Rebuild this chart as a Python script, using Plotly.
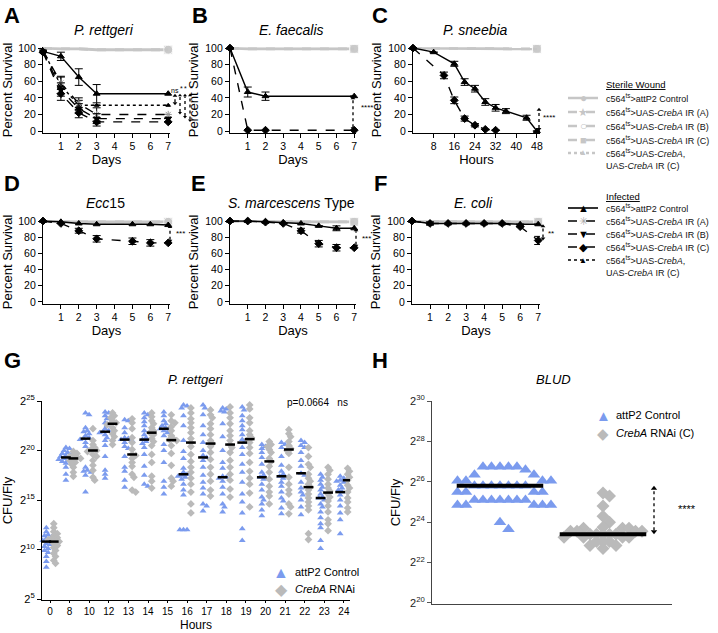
import plotly.graph_objects as go

W, H = 718, 633
FONT = "Liberation Sans, Arial, Helvetica, sans-serif"
BLUE = "#7B9BEE"
GRAYD = "#BABABA"
STER = "#C6C6C6"

# ------------------------------------------------------------------ data
# A  P. rettgeri (days)
A_days = [0, 1, 2, 3, 7]
A_ctrl = [96, 90, 65, 45, 45]
A_ctrl_err = [None, 5, 10, 11, None]
A_irA = [97, 58, 33, 20, 20]
A_irA_err = [None, 8, 7, 8, None]
A_irB = [96, 50, 27, 15, 15]
A_irB_err = [None, 8, 6, 6, None]
A_irC = [95, 45, 22, 11, 11]
A_irC_err = [None, 8, 6, 5, None]
A_res = [97, 55, 31, 31, 31]
A_res_err = [None, 10, 6, None, None]
A_ster = [100, 99, 99, 98, 98]

# B  E. faecalis (days)
B_days = [0, 1, 2, 7]
B_ctrl = [100, 47, 42, 42]
B_ctrl_err = [None, 6, 5, None]
B_irC = [100, 1, 1, 1]
B_ster = [100, 99, 99, 99]

# C  P. sneebia (hours)
C_ctrl_h = [0, 8, 16, 20, 24, 28, 32, 36, 44, 48]
C_ctrl = [100, 95, 81, 59, 51, 35, 28, 24, 16, 0]
C_ctrl_err = [None, None, 3, 4, 4, 4, 4, 3, 3, None]
C_irC_h = [0, 12, 16, 20, 24, 28, 32]
C_irC = [100, 67, 37, 15, 7, 2, 1]
C_irC_err = [None, 4, 4, 3, 2, None, None]
C_ster_h = [0, 48]
C_ster = [100, 99]

# D  Ecc15 (days)
D_days = [0, 1, 2, 3, 5, 6, 7]
D_ctrl = [100, 99, 97, 96, 96, 96, 95]
D_irC = [100, 97, 88, 78, 75, 73, 73]
D_irC_err = [None, None, 3, 4, 4, 4, None]
D_ster = [100, 99, 99, 99, 99, 99, 99]

# E  S. marcescens Type (days)
E_days = [0, 1, 2, 3, 4, 5, 6, 7]
E_ctrl = [100, 100, 99, 98, 97, 94, 91, 91]
E_ctrl_err = [None, None, None, None, None, None, 3, None]
E_irC = [100, 100, 98.6, 97, 88, 72, 67, 67]
E_irC_err = [None, None, None, None, 3, 4, 4, None]
E_ster = [100, 100, 100, 99, 99, 99, 99, 99]

# F  E. coli (days)
F_days = [0, 1, 2, 3, 4, 5, 6, 7]
F_ctrl = [100, 97, 97, 97, 97, 97, 96, 96]
F_ctrl_err = [None, 2, None, None, None, None, None, None]
F_irC = [100, 97, 97, 97, 97, 97, 93, 76]
F_irC_err = [None, None, None, None, None, None, None, 5]
F_ster = [100, 100, 100, 99, 99, 99, 99, 99]

# G  P. rettgeri CFU/fly over time (log2 CFU)
G_hours = ["0", "8", "10", "12", "13", "14", "15", "16", "17", "18", "19", "20", "21", "22", "23", "24"]
G_ctrl_log2 = [
    [12.2, 11.8, 11.5, 11.4, 11.3, 11.2, 11.1, 11.0, 10.9, 10.8, 10.6, 10.5, 10.3, 10.1, 9.9, 9.7, 9.3, 8.8, 8.2],
    [20.3, 20.2, 20.0, 19.8, 19.7, 19.6, 19.5, 19.4, 19.3, 19.3, 19.2, 19.1, 19.0, 18.9, 18.7, 18.3, 17.6, 17.0],
    [23.8, 23.6, 22.3, 22.0, 21.9, 21.7, 21.5, 21.3, 21.2, 21.1, 20.8, 20.4, 18.3, 18.0, 17.9, 17.8, 17.5, 15.8],
    [23.9, 23.8, 23.5, 23.2, 22.8, 22.5, 22.2, 22.0, 21.9, 21.8, 21.6, 21.3, 21.0, 20.5, 19.4, 18.0, 17.6, 17.2],
    [23.1, 23.0, 22.3, 21.8, 21.3, 21.2, 21.1, 21.0, 20.8, 20.4, 20.2, 19.4, 18.3, 17.9, 17.0, 16.3],
    [23.8, 23.6, 23.3, 22.9, 22.5, 22.0, 21.6, 21.3, 21.1, 20.9, 20.7, 20.3, 19.6, 18.4, 17.5, 16.6, 16.4],
    [23.9, 23.5, 23.0, 22.7, 22.5, 22.3, 22.2, 22.1, 22.0, 21.8, 21.5, 20.6, 20.0, 18.8, 16.9, 16.3, 15.6],
    [24.6, 24.5, 24.3, 23.5, 22.5, 21.0, 19.9, 19.2, 18.2, 17.8, 17.6, 17.5, 17.4, 17.3, 17.1, 16.6, 16.0, 15.5, 12.0, 12.0, 12.0],
    [24.6, 24.3, 23.6, 22.5, 21.6, 20.8, 20.0, 19.5, 19.3, 19.0, 18.3, 17.5, 16.8, 16.2, 15.6, 14.6, 14.4, 13.9],
    [24.3, 24.2, 24.0, 23.9, 22.7, 21.4, 20.0, 18.8, 18.2, 17.4, 17.3, 17.2, 16.9, 16.3, 15.6, 14.6, 14.3, 13.8],
    [24.4, 24.1, 23.5, 23.0, 22.5, 22.1, 21.6, 21.1, 20.8, 20.3, 19.6, 18.6, 17.8, 16.8, 15.6, 14.8, 13.7, 12.1, 10.9],
    [20.6, 20.4, 20.2, 19.8, 19.3, 18.6, 17.8, 17.5, 17.3, 17.1, 16.6, 16.0, 15.3, 15.0, 14.6, 14.0, 13.4],
    [20.8, 20.6, 20.3, 19.4, 18.5, 17.9, 17.6, 17.4, 17.2, 16.8, 16.4, 15.8, 15.2, 14.9, 14.2, 13.6],
    [21.0, 20.8, 20.5, 20.3, 19.8, 19.0, 18.4, 17.7, 17.5, 16.8, 16.2, 15.8, 15.5, 15.0, 14.3, 13.5],
    [17.6, 17.3, 17.0, 16.6, 16.3, 16.0, 15.6, 15.3, 15.2, 15.0, 14.6, 14.3, 13.8, 13.2, 12.6, 12.2, 10.9, 10.1],
    [17.4, 17.2, 17.0, 16.9, 16.8, 16.5, 16.2, 16.0, 15.8, 15.5, 15.0, 14.4, 13.7, 13.0, 11.6],
]
G_rnai_log2 = [
    [12.6, 12.2, 11.8, 11.6, 11.4, 11.2, 11.1, 11.0, 10.9, 10.8, 10.6, 10.4, 10.2, 9.9, 9.6, 9.3, 8.9, 8.6],
    [19.9, 19.7, 19.5, 19.4, 19.3, 19.2, 19.1, 19.0, 18.8, 18.6, 18.3, 17.8, 17.4],
    [22.2, 21.0, 20.6, 20.3, 20.1, 20.0, 19.9, 19.6, 19.4, 19.0, 18.5, 18.0, 17.3, 17.0],
    [23.8, 23.5, 23.3, 23.0, 22.8, 22.7, 22.6, 22.3, 22.0, 21.7, 21.4, 21.0, 20.6],
    [23.2, 22.8, 22.2, 21.3, 20.8, 20.1, 19.6, 19.5, 19.2, 18.8, 18.4, 17.6, 17.3, 16.0, 15.8],
    [23.8, 23.4, 23.0, 22.7, 22.3, 22.0, 21.8, 21.6, 21.2, 20.9, 20.5, 19.6, 18.8, 17.4, 16.9, 16.2],
    [23.6, 23.0, 22.8, 22.4, 22.0, 21.5, 21.2, 21.1, 21.0, 20.5, 19.7, 18.5, 17.2, 16.9, 16.4],
    [24.3, 23.8, 23.2, 22.8, 22.3, 21.8, 21.2, 20.8, 20.4, 19.6, 18.9, 18.3, 17.8, 17.2, 16.6, 15.8, 14.6, 13.7],
    [24.1, 23.6, 23.3, 22.7, 22.2, 21.6, 21.0, 20.7, 20.4, 19.8, 19.1, 18.3, 17.6, 16.9, 16.0, 15.4],
    [24.4, 23.8, 23.3, 22.7, 22.0, 21.5, 21.0, 20.6, 20.3, 19.8, 19.0, 18.3, 17.6, 17.0, 16.1, 15.3],
    [24.6, 24.2, 23.3, 22.8, 22.0, 21.6, 21.3, 21.1, 20.8, 20.3, 19.7, 18.8, 17.9, 17.2, 16.6, 15.7, 14.3],
    [20.9, 20.6, 20.4, 20.1, 19.8, 19.2, 18.9, 18.4, 17.8, 17.1, 16.4, 15.8, 15.4, 14.6],
    [22.1, 21.7, 21.4, 20.9, 20.5, 20.2, 20.0, 19.7, 18.3, 17.3, 16.6, 16.0, 15.6, 14.6, 14.3, 13.6],
    [20.3, 19.4, 18.6, 18.3, 17.6, 17.2, 16.9, 16.6, 16.3, 16.0, 15.6, 15.2, 14.8, 14.4, 14.0, 11.6, 11.0],
    [18.3, 18.0, 17.6, 17.1, 16.6, 16.2, 15.9, 15.6, 15.3, 14.9, 14.4, 13.8, 13.0, 12.6, 11.9],
    [18.2, 17.9, 17.6, 17.3, 17.0, 16.8, 16.5, 16.2, 15.8, 15.2, 14.8, 14.2, 13.8],
]
G_ctrl_median = [10.8, 19.3, 21.2, 21.9, 21.1, 21.1, 22.2, 17.6, 19.3, 17.3, 20.8, 17.3, 17.4, 17.7, 15.2, 15.8]
G_rnai_median = [10.8, 19.2, 20.0, 22.7, 19.6, 21.8, 21.05, 20.8, 20.7, 20.6, 21.15, 18.9, 20.1, 16.3, 15.75, 17.0]
G_p_text = "p=0.0664   ns"

# H  BLUD (log2 CFU)
H_ctrl_log2 = [25.8, 25.8, 25.8, 25.8, 25.8, 25.8, 25.8,
               26.75, 26.75, 26.75, 26.75, 26.75, 26.6, 26.35, 26.35,
               26.05, 26.05, 26.05, 26.05, 25.5, 25.5, 25.5, 25.5,
               25.1, 25.1, 25.1, 25.1, 25.1, 25.1, 25.1,
               24.85, 24.85, 24.85, 24.85, 24.85, 24.0, 23.65]
H_rnai_log2 = [23.4, 23.4, 23.4, 23.4, 23.4, 25.45, 25.3, 24.8, 24.3, 24.0,
               23.75, 23.7, 23.7, 23.7, 23.55, 23.55, 23.55, 23.55,
               23.25, 23.25, 23.25, 23.25, 23.05, 23.05, 23.05, 22.85, 22.85, 22.7]
H_ctrl_median = 25.8
H_rnai_median = 23.4

# ------------------------------------------------------------------ layout geometry (pixels)
PAN = {
    'A': dict(ax='', x=(43, 170), y=(47.2, 132.7), xr=(0, 7.1), yr=(-2, 101)),
    'B': dict(ax='2', x=(230, 356), y=(47.2, 132.7), xr=(0, 7.1), yr=(-2, 101)),
    'C': dict(ax='3', x=(413, 540), y=(47.2, 132.7), xr=(0, 49.2), yr=(-2, 101)),
    'D': dict(ax='4', x=(43, 170), y=(220.2, 303.6), xr=(0, 7.1), yr=(-2, 101)),
    'E': dict(ax='5', x=(230, 356), y=(220.2, 303.6), xr=(0, 7.1), yr=(-2, 101)),
    'F': dict(ax='6', x=(412, 540), y=(220.2, 303.6), xr=(0, 7.1), yr=(-2, 101)),
    'G': dict(ax='7', x=(42, 350), y=(401, 600), xr=(-0.41, 15.31), yr=(4.9, 25)),
    'H': dict(ax='8', x=(432, 672), y=(401, 604), xr=(-0.66, 1.67), yr=(19.95, 30)),
}


def fx(p):
    return p / W


def fy(p):
    return 1 - p / H


def ypx(pan, v):
    c = PAN[pan]
    y0, y1 = c['y']
    r0, r1 = c['yr']
    return y1 - (v - r0) / (r1 - r0) * (y1 - y0)


fig = go.Figure()
shapes = []
ann = []

axis_common = dict(showline=True, linecolor='black', linewidth=1.2, ticks='outside', ticklen=4,
                   tickwidth=1, tickcolor='black', showgrid=False, zeroline=False, automargin=False,
                   tickfont=dict(family=FONT, size=10.5, color='black'))

lay = {}
for k, c in PAN.items():
    a = c['ax']
    xa = dict(axis_common, domain=[fx(c['x'][0]), fx(c['x'][1])], range=list(c['xr']),
              anchor='y' + a)
    ya = dict(axis_common, domain=[fy(c['y'][1]), fy(c['y'][0])], range=list(c['yr']),
              anchor='x' + a)
    lay['xaxis' + a] = xa
    lay['yaxis' + a] = ya

title_font = dict(family=FONT, size=13, color='black')
for k in 'ABDEF':
    a = PAN[k]['ax']
    lay['xaxis' + a].update(tickvals=[1, 2, 3, 4, 5, 6, 7],
                            title=dict(text='Days', font=title_font, standoff=2))
for k in 'ABCDEF':
    a = PAN[k]['ax']
    lay['yaxis' + a].update(tickvals=[0, 20, 40, 60, 80, 100],
                            title=dict(text='Percent Survival', font=title_font, standoff=3))
lay['xaxis3'].update(tickvals=[8, 16, 24, 32, 40, 48],
                     title=dict(text='Hours', font=title_font, standoff=2))

lay['xaxis7'].update(tickvals=list(range(len(G_hours))), ticktext=G_hours, ticklen=2,
                     tickfont=dict(family=FONT, size=10, color='black'))
lay['yaxis7'].update(tickvals=[5, 10, 15, 20, 25],
                     ticktext=['2<sup>%d</sup>' % e for e in [5, 10, 15, 20, 25]],
                     tickfont=dict(family=FONT, size=11, color='black'),
                     title=dict(text='CFU/Fly', font=title_font, standoff=4))
lay['xaxis8'].update(ticks='', showticklabels=False, linecolor='#444', linewidth=1)
lay['yaxis8'].update(tickvals=[20, 22, 24, 26, 28, 30],
                     ticktext=['2<sup>%d</sup>' % e for e in [20, 22, 24, 26, 28, 30]],
                     tickfont=dict(family=FONT, size=11, color='#222'),
                     linewidth=1, tickcolor='#555', linecolor='#444',
                     title=dict(text='CFU/Fly', font=title_font, standoff=6))

# ------------------------------------------------------------------ survival traces
STY = {
    'ctrl': dict(dash='solid', sym='triangle-up', size=6, mcol='black', lcol='black', w=1.4),
    'irA': dict(dash='dash', sym='asterisk-open', size=6, mcol='#9a9a9a', lcol='black', w=1.4),
    'irB': dict(dash='dash', sym='triangle-down', size=6, mcol='black', lcol='black', w=1.4),
    'irC': dict(dash='dash', sym='diamond', size=6, mcol='black', lcol='black', w=1.4),
    'res': dict(dash='dot', sym='triangle-up', size=4, mcol='black', lcol='black', w=1.4),
}


def surv(pan, x, y, err, style):
    s = STY[style]
    a = PAN[pan]['ax']
    tr = go.Scatter(x=x, y=y, xaxis='x' + a, yaxis='y' + a, mode='lines+markers',
                    line=dict(color=s['lcol'], width=s['w'], dash=s['dash']),
                    marker=dict(symbol=s['sym'], size=s['size'], color=s['mcol'],
                                line=dict(color=s['mcol'], width=1)),
                    cliponaxis=False, showlegend=False, hoverinfo='skip')
    if err is not None:
        tr.error_y = dict(type='data', array=err, color='black', thickness=1, width=4)
    fig.add_trace(tr)


def sterile(pan, x, y, end_symbol_first):
    a = PAN[pan]['ax']
    n = len(x)
    sizes = [0] * (n - 1) + [9]
    for dash, sym in ([('solid', 'circle'), ('dash', 'square')] if not end_symbol_first
                      else [('dash', 'square'), ('solid', 'circle')]):
        fig.add_trace(go.Scatter(x=x, y=y, xaxis='x' + a, yaxis='y' + a, mode='lines+markers',
                                 line=dict(color=STER, width=3, dash=dash),
                                 marker=dict(symbol=sym, size=sizes, color=STER),
                                 cliponaxis=False, showlegend=False, hoverinfo='skip'))


sterile('A', A_days, A_ster, True)
surv('A', A_days, A_res, A_res_err, 'res')
surv('A', A_days, A_irA, A_irA_err, 'irA')
surv('A', A_days, A_irB, A_irB_err, 'irB')
surv('A', A_days, A_irC, A_irC_err, 'irC')
surv('A', A_days, A_ctrl, A_ctrl_err, 'ctrl')

sterile('B', B_days, B_ster, False)
surv('B', B_days, B_irC, None, 'irC')
surv('B', B_days, B_ctrl, B_ctrl_err, 'ctrl')

sterile('C', C_ster_h, C_ster, False)
surv('C', C_irC_h, C_irC, C_irC_err, 'irC')
surv('C', C_ctrl_h, C_ctrl, C_ctrl_err, 'ctrl')

sterile('D', D_days, D_ster, True)
surv('D', D_days, D_irC, D_irC_err, 'irC')
surv('D', D_days, D_ctrl, None, 'ctrl')

sterile('E', E_days, E_ster, False)
surv('E', E_days, E_irC, E_irC_err, 'irC')
surv('E', E_days, E_ctrl, E_ctrl_err, 'ctrl')

sterile('F', F_days, F_ster, False)
surv('F', F_days, F_irC, F_irC_err, 'irC')
surv('F', F_days, F_ctrl, F_ctrl_err, 'ctrl')


# ------------------------------------------------------------------ beeswarm helper
def swarm(vals, center, xscale, yscale, diam, step):
    placed, out = [], []
    cands = [0.0]
    for j in range(1, 40):
        cands += [j * step, -j * step]
    for v in vals:
        off = 0.0
        for o in cands:
            if all((o - po) ** 2 + ((v - pv) * yscale) ** 2 >= diam ** 2 for po, pv in placed):
                off = o
                break
        placed.append((off, v))
        out.append(center + off / xscale)
    return out


# G
gx_scale = 19.6
gy_scale = 10.0
G_OFF = 0.19
for i in range(len(G_hours)):
    xs = swarm(G_ctrl_log2[i], i - G_OFF, gx_scale, gy_scale, 3.4, 1.8)
    fig.add_trace(go.Scatter(x=xs, y=G_ctrl_log2[i], xaxis='x7', yaxis='y7', mode='markers',
                             marker=dict(symbol='triangle-up', size=6, color=BLUE),
                             showlegend=False, hoverinfo='skip', cliponaxis=False))
for i in range(len(G_hours)):
    xs = swarm(G_rnai_log2[i], i + G_OFF, gx_scale, gy_scale, 3.4, 1.8)
    fig.add_trace(go.Scatter(x=xs, y=G_rnai_log2[i], xaxis='x7', yaxis='y7', mode='markers',
                             marker=dict(symbol='diamond', size=6, color=GRAYD),
                             showlegend=False, hoverinfo='skip', cliponaxis=False))
fig.add_trace(go.Scatter(x=[i - G_OFF for i in range(len(G_hours))], y=G_ctrl_median,
                         xaxis='x7', yaxis='y7', mode='markers',
                         marker=dict(symbol='line-ew', size=7, line=dict(color='black', width=2.5)),
                         showlegend=False, hoverinfo='skip'))
fig.add_trace(go.Scatter(x=[i + G_OFF for i in range(len(G_hours))], y=G_rnai_median,
                         xaxis='x7', yaxis='y7', mode='markers',
                         marker=dict(symbol='line-ew', size=7, line=dict(color='black', width=2.5)),
                         showlegend=False, hoverinfo='skip'))

# H
hx_scale = 103
hy_scale = 20.3
xs = swarm(H_ctrl_log2, 0, hx_scale, hy_scale, 8.5, 8.5)
fig.add_trace(go.Scatter(x=xs, y=H_ctrl_log2, xaxis='x8', yaxis='y8', mode='markers',
                         marker=dict(symbol='triangle-up', size=11, color=BLUE),
                         showlegend=False, hoverinfo='skip', cliponaxis=False))
xs = swarm(H_rnai_log2, 1, hx_scale, hy_scale, 6.5, 6.5)
fig.add_trace(go.Scatter(x=xs, y=H_rnai_log2, xaxis='x8', yaxis='y8', mode='markers',
                         marker=dict(symbol='diamond', size=10, color=GRAYD),
                         showlegend=False, hoverinfo='skip', cliponaxis=False))
HW = 0.42
fig.add_trace(go.Scatter(x=[-HW, HW], y=[H_ctrl_median] * 2, xaxis='x8', yaxis='y8', mode='lines',
                         line=dict(color='black', width=4), showlegend=False, hoverinfo='skip'))
fig.add_trace(go.Scatter(x=[1 - HW, 1 + HW], y=[H_rnai_median] * 2, xaxis='x8', yaxis='y8', mode='lines',
                         line=dict(color='black', width=4), showlegend=False, hoverinfo='skip'))


# ------------------------------------------------------------------ significance arrows
def sig_arrow(pan, xp, v_lo, v_hi, label=None, lx=None, ly=None, lsize=8, head=3):
    y_lo = ypx(pan, v_lo)
    y_hi = ypx(pan, v_hi)
    shapes.append(dict(type='line', xref='paper', yref='paper', x0=fx(xp), x1=fx(xp),
                       y0=fy(y_lo - head), y1=fy(y_hi + head),
                       line=dict(color='black', width=1.3, dash='dot')))
    hw = head * 0.8
    shapes.append(dict(type='path', xref='paper', yref='paper', fillcolor='black', line=dict(width=0),
                       path='M %f,%f L %f,%f L %f,%f Z' % (fx(xp - hw), fy(y_hi + head), fx(xp + hw),
                                                            fy(y_hi + head), fx(xp), fy(y_hi))))
    shapes.append(dict(type='path', xref='paper', yref='paper', fillcolor='black', line=dict(width=0),
                       path='M %f,%f L %f,%f L %f,%f Z' % (fx(xp - hw), fy(y_lo - head), fx(xp + hw),
                                                            fy(y_lo - head), fx(xp), fy(y_lo))))
    if label:
        ann.append(dict(text=label, xref='paper', yref='paper', x=fx(lx), y=fy(ly), showarrow=False,
                        xanchor='center', yanchor='middle',
                        font=dict(family=FONT, size=lsize, color='black')))


sig_arrow('A', 175, A_res[-1], A_ctrl[-1], 'ns', 175, 90, 7)
sig_arrow('A', 180, A_irA[-1], A_ctrl[-1], '*', 181, 89, 7, head=2.5)
sig_arrow('A', 185, A_irB[-1], A_ctrl[-1], '*', 186, 89, 7, head=2.5)
sig_arrow('A', 190, A_irC[-1], A_ctrl[-1], '*', 191, 89, 7, head=2.5)
sig_arrow('B', 353, B_irC[-1], B_ctrl[-1], '****', 367, 108)
sig_arrow('C', 539, C_ctrl[-1], 28, '****', 549, 118)
sig_arrow('D', 170, D_irC[-1], D_ctrl[-1], '***', 180, 233)
sig_arrow('E', 356, E_irC[-1], E_ctrl[-1], '***', 366, 238)
sig_arrow('F', 543, F_irC[-1], F_ctrl[-1], '**', 551, 233)
sig_arrow('H', 654, H_rnai_median, H_ctrl_median, '****', 687, 509, 11, head=4)


# ------------------------------------------------------------------ text annotations
def text(t, x, y, size=13, xa='center', ya='middle', color='black', **kw):
    ann.append(dict(text=t, xref='paper', yref='paper', x=fx(x), y=fy(y), showarrow=False,
                    xanchor=xa, yanchor=ya, font=dict(family=FONT, size=size, color=color, **kw)))


for lab, x, y in [('A', 12, 15), ('B', 200, 15), ('C', 380, 15), ('D', 12, 183), ('E', 198, 183),
                  ('F', 380, 183), ('G', 12, 360), ('H', 380, 360)]:
    text('<b>%s</b>' % lab, x, y, size=22)

for t, x, y in [('<i>P. rettgeri</i>', 104, 30), ('<i>E. faecalis</i>', 291, 30), ('<i>P. sneebia</i>', 475, 30),
                ('<i>Ecc</i>15', 105, 203), ('<i>S. marcescens</i> Type', 291, 203), ('<i>E. coli</i>', 473, 203)]:
    text(t, x, y, size=14)
text('<i>P. rettgeri</i>', 196, 379, size=13)
text('<i>BLUD</i>', 553, 379, size=13)
text(G_p_text, 350, 403, size=10, xa='right')
# G x-axis title
ann.append(dict(text='Hours', xref='paper', yref='paper', x=fx(196), y=0, showarrow=False,
                xanchor='center', yanchor='bottom', borderpad=0,
                font=dict(family=FONT, size=12, color='black')))

# legend (survival)
LX0, LX1, LM, LT = 568, 598, 583, 604
TS = '<sup>ts</sup>'
LF = 9
ster_rows = [
    (98, 'solid', '●', 12, 'c564' + TS + '>attP2 Control'),
    (112, 'dash', '★', 11, 'c564' + TS + '>UAS-<i>CrebA</i> IR (A)'),
    (126, 'dash', '○', 12, 'c564' + TS + '>UAS-<i>CrebA</i> IR (B)'),
    (140, 'dash', '■', 11, 'c564' + TS + '>UAS-<i>CrebA</i> IR (C)'),
    (153, 'dot', '▲', 8, 'c564' + TS + '>UAS-<i>CrebA</i>,'),
]
inf_rows = [
    (208, 'solid', '▲', 11, 'black', 'c564' + TS + '>attP2 Control'),
    (221, 'dash', '✳', 11, '#a8a8a8', 'c564' + TS + '>UAS-<i>CrebA</i> IR (A)'),
    (234, 'dash', '▼', 11, 'black', 'c564' + TS + '>UAS-<i>CrebA</i> IR (B)'),
    (247, 'dash', '◆', 11, 'black', 'c564' + TS + '>UAS-<i>CrebA</i> IR (C)'),
    (260, 'dot', '▲', 8, 'black', 'c564' + TS + '>UAS-<i>CrebA</i>,'),
]
text('Sterile Wound', LT, 84, size=LF + 0.5, xa='left', lineposition='under')
for y, dash, g, gs, t in ster_rows:
    shapes.append(dict(type='line', xref='paper', yref='paper', x0=fx(LX0), x1=fx(LX1), y0=fy(y), y1=fy(y),
                       line=dict(color=STER, width=2.5, dash=dash)))
    text(g, LM, y, size=gs, color=STER)
    text(t, LT, y, size=LF, xa='left', color='#111')
text('UAS-<i>CrebA</i> IR (C)', LT, 166, size=LF, xa='left', color='#111')
text('Infected', LT, 196, size=LF + 0.5, xa='left', lineposition='under')
for y, dash, g, gs, gc, t in inf_rows:
    shapes.append(dict(type='line', xref='paper', yref='paper', x0=fx(LX0), x1=fx(LX1), y0=fy(y), y1=fy(y),
                       line=dict(color='black', width=1.6, dash=dash)))
    text(g, LM, y, size=gs, color=gc)
    text(t, LT, y, size=LF, xa='left', color='#111')
text('UAS-<i>CrebA</i> IR (C)', LT, 273, size=LF, xa='left', color='#111')

# legends G and H
text('▲', 281, 572, size=16, color=BLUE)
text('attP2 Control', 293, 572, size=11, xa='left')
text('◆', 281, 589, size=16, color=GRAYD)
text('<i>CrebA</i> RNAi', 293, 589, size=11, xa='left')
text('▲', 603, 415, size=15, color=BLUE)
text('attP2 Control', 614, 415, size=11, xa='left')
text('◆', 603, 433, size=15, color=GRAYD)
text('<i>CrebA</i> RNAi (C)', 614, 433, size=11, xa='left')

fig.update_layout(width=W, height=H, margin=dict(l=0, r=0, t=0, b=0, autoexpand=False),
                  paper_bgcolor='white', plot_bgcolor='white', showlegend=False,
                  font=dict(family=FONT, color='black'), shapes=shapes, annotations=ann, **lay)
fig.write_html('out.html', config={'displayModeBar': False},
               post_script="document.body.style.margin='0';document.body.style.padding='0';"
                           "document.body.style.overflow='hidden';")
